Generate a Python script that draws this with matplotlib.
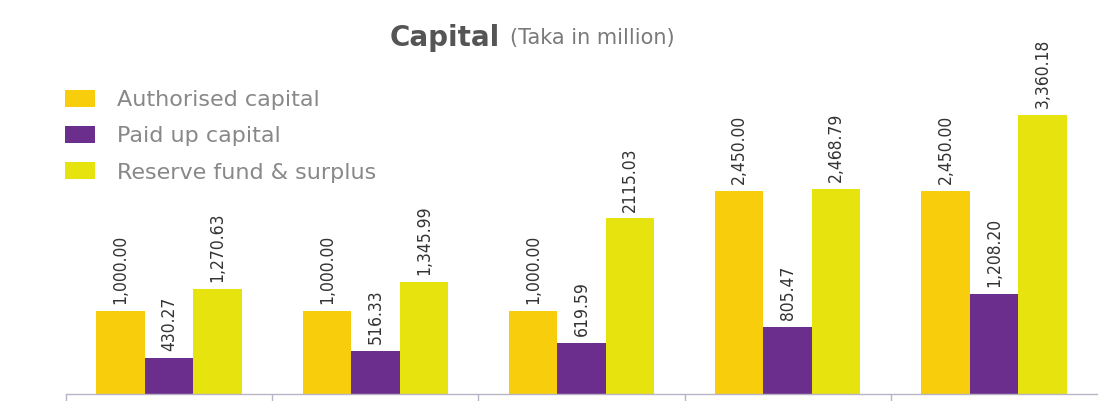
import matplotlib.pyplot as plt
import numpy as np

# Capital, Taka in million, five years
authorised = [1000.00, 1000.00, 1000.00, 2450.00, 2450.00]
paid_up = [430.27, 516.33, 619.59, 805.47, 1208.20]
reserve = [1270.63, 1345.99, 2115.03, 2468.79, 3360.18]
labels_reserve = ["1,270.63", "1,345.99", "2115.03", "2,468.79", "3,360.18"]

series = [
    ("Authorised capital", authorised, "#F8CE0C", None),
    ("Paid up capital", paid_up, "#6B2E8C", None),
    ("Reserve fund & surplus", reserve, "#E7E30E", labels_reserve),
]

narrow = ["DejaVu Sans Condensed", "Liberation Sans Narrow", "DejaVu Sans"]

fig = plt.figure(figsize=(10.99, 4.01), dpi=100)
ax = fig.add_axes([66 / 1099, 7 / 401, 1031 / 1099, 373.5 / 401])

x = np.arange(len(authorised))
w = 0.235
for i, (name, vals, color, txt) in enumerate(series):
    pos = x + (i - 1) * w
    ax.bar(pos, vals, width=w, color=color, label=name)
    for j, (p, v) in enumerate(zip(pos, vals)):
        s = txt[j] if txt else f"{v:,.2f}"
        ax.annotate(s, (p, v), xytext=(0, 5), textcoords="offset points",
                    rotation=90, ha="center", va="bottom", color="#333333",
                    fontsize=12.5, family=narrow, fontstretch="condensed")

ax.set_xlim(-0.5, len(authorised) - 0.5)
ax.set_ylim(0, 4500)
for side in ["top", "right", "left"]:
    ax.spines[side].set_visible(False)
ax.spines["bottom"].set_color("#b9b3c6")
ax.spines["bottom"].set_linewidth(1)
ax.set_yticks([])
ax.set_xticks(np.arange(len(authorised)) - 0.5)
ax.set_xticklabels([])
ax.tick_params(axis="x", length=7, color="#b9b3c6", width=1)

fig.text(500 / 1099, 1 - 38 / 401, "Capital", ha="right", va="center",
         fontsize=20, fontweight="bold", color="#555555")
fig.text(510 / 1099, 1 - 38 / 401, "(Taka in million)", ha="left", va="center",
         fontsize=15, color="#7a7a7a")

ax.legend(loc="upper left", bbox_to_anchor=(65 / 1099, 1 - 90 / 401),
          bbox_transform=fig.transFigure, frameon=False, borderpad=0,
          borderaxespad=0, handlelength=1.35, handleheight=0.8,
          handletextpad=1.0, labelspacing=0.72, labelcolor="#888888",
          prop={"family": "DejaVu Sans", "size": 16})

fig.savefig("out.png", dpi=100)
